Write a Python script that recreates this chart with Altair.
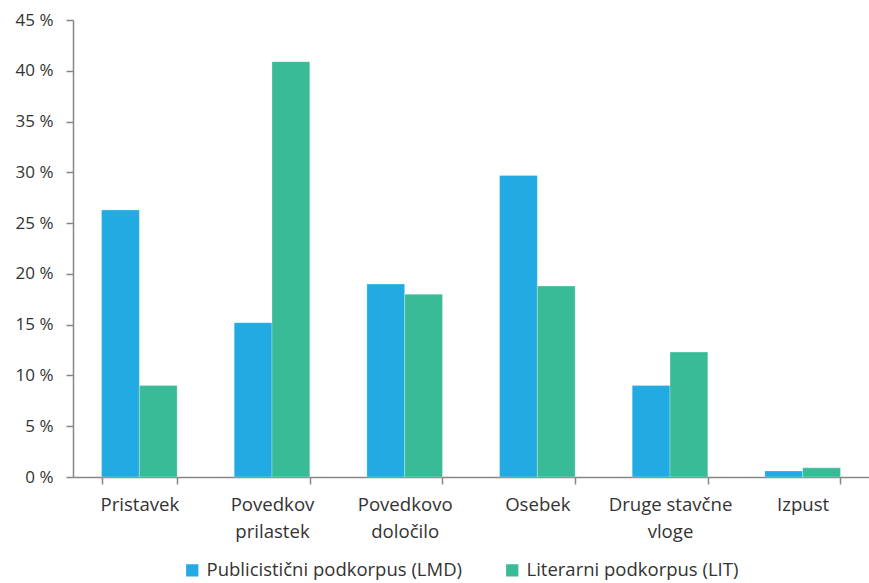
import altair as alt
import pandas as pd

categories = ["Pristavek", "Povedkov|prilastek", "Povedkovo|določilo", "Osebek", "Druge stavčne|vloge", "Izpust"]
series = ["Publicistični podkorpus (LMD)", "Literarni podkorpus (LIT)"]
lmd = [26.3, 15.2, 19.0, 29.7, 9.0, 0.6]
lit = [9.0, 40.9, 18.0, 18.8, 12.3, 0.9]
colors = ["#21ABE2", "#38BB96"]
y_ticks = [0, 5, 10, 15, 20, 25, 30, 35, 40, 45]

rows = []
for c, a, b in zip(categories, lmd, lit):
    rows.append({"cat": c, "series": series[0], "value": a})
    rows.append({"cat": c, "series": series[1], "value": b})
df = pd.DataFrame(rows)

FONT = "Open Sans"
TXT = "#333333"
AX = "#868686"

chart = alt.Chart(df).mark_bar(stroke="white", strokeWidth=0.8, strokeOpacity=0.35).encode(
    x=alt.X("cat:N", sort=categories, title=None,
            scale=alt.Scale(paddingInner=0.43, paddingOuter=0.215),
            axis=alt.Axis(labelExpr="split(datum.label, '|')", labelAngle=0,
                          tickBand="extent", tickSize=7, tickColor=AX, domainColor=AX,
                          tickWidth=1.5, domainWidth=1.5,
                          labelFont=FONT, labelFontSize=18.6, labelColor=TXT,
                          labelLineHeight=27, labelPadding=11, labelBaseline="top")),
    xOffset=alt.XOffset("series:N", sort=series),
    y=alt.Y("value:Q", title=None,
            scale=alt.Scale(domain=[0, 45], nice=False),
            axis=alt.Axis(values=y_ticks, labelExpr="datum.value + ' %'", grid=False,
                          tickSize=7, tickColor=AX, domainColor=AX, tickWidth=1.5, domainWidth=1.5,
                          labelFont=FONT, labelFontSize=17, labelColor=TXT, labelPadding=13)),
    color=alt.Color("series:N", sort=series, title=None,
                    scale=alt.Scale(domain=series, range=colors),
                    legend=alt.Legend(orient="none", direction="horizontal", legendX=110, legendY=541,
                                      symbolType="square", symbolSize=150, symbolStrokeWidth=0,
                                      labelFont=FONT, labelFontSize=18.5, labelColor=TXT, labelLimit=0,
                                      columnPadding=40, labelOffset=5)),
).properties(
    width=796, height=457,
    padding={"left": 73, "top": 20, "right": 0, "bottom": 106},
    autosize=alt.AutoSizeParams(type="none"),
).configure_view(stroke=None)

chart.save("out.html", embed_options={"renderer": "svg", "actions": False})
